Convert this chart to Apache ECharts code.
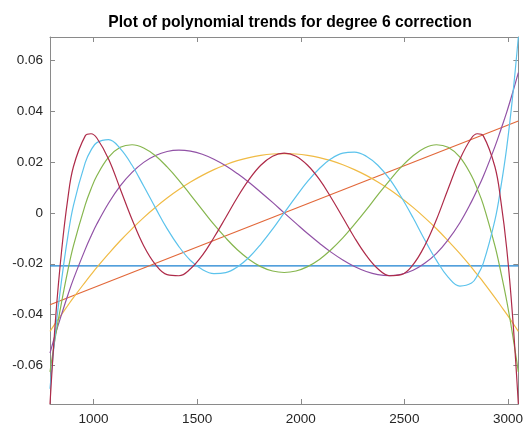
<!DOCTYPE html>
<html>
<head>
<meta charset="utf-8">
<script src="https://cdn.jsdelivr.net/npm/echarts@6/dist/echarts.min.js"></script>
<style>html,body{margin:0;padding:0;background:#fff}#c{width:526px;height:426px}</style>
</head>
<body>
<div id="c"></div>
<script>
// x positions of the sampled points
const xs = [790, 818, 847, 875, 903, 960, 988, 1016, 1073, 1129, 1186, 1242, 1299, 1355, 1412, 1468, 1525, 1581, 1638, 1694, 1751, 1807, 1864,
  1920,
  1977, 2033, 2090, 2146, 2203, 2259, 2316, 2372, 2429, 2485, 2542, 2598, 2655, 2711, 2768, 2824, 2852, 2881, 2937, 2965, 2994, 3022, 3050];
// degree 0 and 1 trends are straight lines: endpoints
const xEnds = [790, 3050];
const deg0 = [-0.02083, -0.02083];
const deg1 = [-0.03608, 0.03608];
const deg2 = [-0.04658, -0.04313, -0.03977, -0.03649, -0.03330, -0.02719, -0.02427, -0.02143, -0.01601, -0.01095, -0.00623, -0.00186, 0.00215, 0.00582, 0.00914, 0.01211, 0.01473, 0.01700, 0.01892, 0.02050, 0.02172, 0.02259, 0.02312,
  0.02329,
  0.02312, 0.02259, 0.02172, 0.02050, 0.01892, 0.01700, 0.01473, 0.01211, 0.00914, 0.00582, 0.00215, -0.00186, -0.00623, -0.01095, -0.01601, -0.02143, -0.02427, -0.02719, -0.03330, -0.03649, -0.03977, -0.04313, -0.04658];
const deg3 = [-0.05511, -0.04710, -0.03959, -0.03258, -0.02604, -0.01435, -0.00916, -0.00441, 0.00387, 0.01061, 0.01590, 0.01984, 0.02254, 0.02411, 0.02464, 0.02425, 0.02303, 0.02108, 0.01851, 0.01543, 0.01193, 0.00813, 0.00412,
  0,
  -0.00412, -0.00813, -0.01193, -0.01543, -0.01851, -0.02108, -0.02303, -0.02425, -0.02464, -0.02411, -0.02254, -0.01984, -0.01590, -0.01061, -0.00387, 0.00441, 0.00916, 0.01435, 0.02604, 0.03258, 0.03959, 0.04710, 0.05511];
const deg4 = [-0.06249, -0.04773, -0.03463, -0.02308, -0.01299, 0.00316, 0.00941, 0.01456, 0.02188, 0.02575, 0.02677, 0.02550, 0.02244, 0.01806, 0.01281, 0.00706, 0.00117, -0.00456, -0.00986, -0.01450, -0.01830, -0.02112, -0.02285,
  -0.02343,
  -0.02285, -0.02112, -0.01830, -0.01450, -0.00986, -0.00456, 0.00117, 0.00706, 0.01281, 0.01806, 0.02244, 0.02550, 0.02677, 0.02575, 0.02188, 0.01456, 0.00941, 0.00316, -0.01299, -0.02308, -0.03463, -0.04773, -0.06249];
const deg5 = [-0.06909, -0.04537, -0.02575, -0.00981, 0.00284, 0.01974, 0.02464, 0.02760, 0.02877, 0.02523, 0.01869, 0.01055, 0.00195, -0.00621, -0.01325, -0.01870, -0.02228, -0.02386, -0.02347, -0.02125, -0.01743, -0.01236, -0.00640,
  0,
  0.00640, 0.01236, 0.01743, 0.02125, 0.02347, 0.02386, 0.02228, 0.01870, 0.01325, 0.00621, -0.00195, -0.01055, -0.01869, -0.02523, -0.02877, -0.02760, -0.02464, -0.01974, -0.00284, 0.00981, 0.02575, 0.04537, 0.06909];
const deg6 = [-0.07510, -0.04037, -0.01408, 0.00503, 0.01811, 0.03026, 0.03109, 0.02942, 0.02109, 0.00941, -0.00260, -0.01292, -0.02033, -0.02428, -0.02470, -0.02198, -0.01671, -0.00970, -0.00182, 0.00605, 0.01312, 0.01869, 0.02225,
  0.02347,
  0.02225, 0.01869, 0.01312, 0.00605, -0.00182, -0.00970, -0.01671, -0.02198, -0.02470, -0.02428, -0.02033, -0.01292, -0.00260, 0.00941, 0.02109, 0.02942, 0.03109, 0.03026, 0.01811, 0.00503, -0.01408, -0.04037, -0.07510];
const xTicks = [1000, 1500, 2000, 2500, 3000];
const yTicks = [-0.06, -0.04, -0.02, 0, 0.02, 0.04, 0.06];
const colors = ['#1a80d0', '#e2683a', '#f0bb45', '#9152a6', '#86b64e', '#5cc3ec', '#ae2b49'];

const pair = (xa, ya) => xa.map((x, i) => [x, ya[i]]);
const lineSeries = (xa, ya, c, smooth) => ({
  type: 'line', data: pair(xa, ya), showSymbol: false, smooth: smooth,
  lineStyle: { color: c, width: 1.2 }, itemStyle: { color: c }, animation: false, clip: true
});

const axisColor = '#8a8a8a';
const labelStyle = { color: '#262626', fontSize: 13.5, fontFamily: 'Liberation Sans, Arial, sans-serif' };
const chart = echarts.init(document.getElementById('c'), null, { renderer: 'canvas' });
chart.setOption({
  animation: false,
  backgroundColor: '#ffffff',
  title: {
    text: 'Plot of polynomial trends for degree 6 correction',
    left: 285, top: 10, textAlign: 'center',
    textStyle: { fontSize: 15.7, fontWeight: 'bold', color: '#000', fontFamily: 'Liberation Sans, Arial, sans-serif' }
  },
  grid: { left: 50, right: 5, top: 37, bottom: 19, containLabel: false },
  xAxis: [{
    type: 'value', min: 790, max: 3050, position: 'bottom',
    axisLine: { show: true, onZero: false, lineStyle: { color: axisColor, width: 1 } },
    axisTick: { show: true, inside: true, length: 5, customValues: xTicks, lineStyle: { color: axisColor } },
    axisLabel: { show: true, customValues: xTicks, margin: 8, formatter: v => String(v), ...labelStyle },
    splitLine: { show: false }
  }, {
    type: 'value', min: 790, max: 3050, position: 'top',
    axisLine: { show: true, onZero: false, lineStyle: { color: axisColor, width: 1 } },
    axisTick: { show: true, inside: true, length: 5, customValues: xTicks, lineStyle: { color: axisColor } },
    axisLabel: { show: false },
    splitLine: { show: false }
  }],
  yAxis: [{
    type: 'value', min: -0.0751, max: 0.0691, position: 'left',
    axisLine: { show: true, onZero: false, lineStyle: { color: axisColor, width: 1 } },
    axisTick: { show: true, inside: true, length: 5, customValues: yTicks, lineStyle: { color: axisColor } },
    axisLabel: { show: true, customValues: yTicks, margin: 7, formatter: v => String(Math.round(v * 100) / 100), ...labelStyle },
    splitLine: { show: false }
  }, {
    type: 'value', min: -0.0751, max: 0.0691, position: 'right',
    axisLine: { show: true, onZero: false, lineStyle: { color: axisColor, width: 1 } },
    axisTick: { show: true, inside: true, length: 5, customValues: yTicks, lineStyle: { color: axisColor } },
    axisLabel: { show: false },
    splitLine: { show: false }
  }],
  series: [
    lineSeries(xEnds, deg0, colors[0], false),
    lineSeries(xEnds, deg1, colors[1], false),
    lineSeries(xs, deg2, colors[2], 0.4),
    lineSeries(xs, deg3, colors[3], 0.4),
    lineSeries(xs, deg4, colors[4], 0.4),
    lineSeries(xs, deg5, colors[5], 0.4),
    lineSeries(xs, deg6, colors[6], 0.4)
  ]
});
</script>
</body>
</html>
